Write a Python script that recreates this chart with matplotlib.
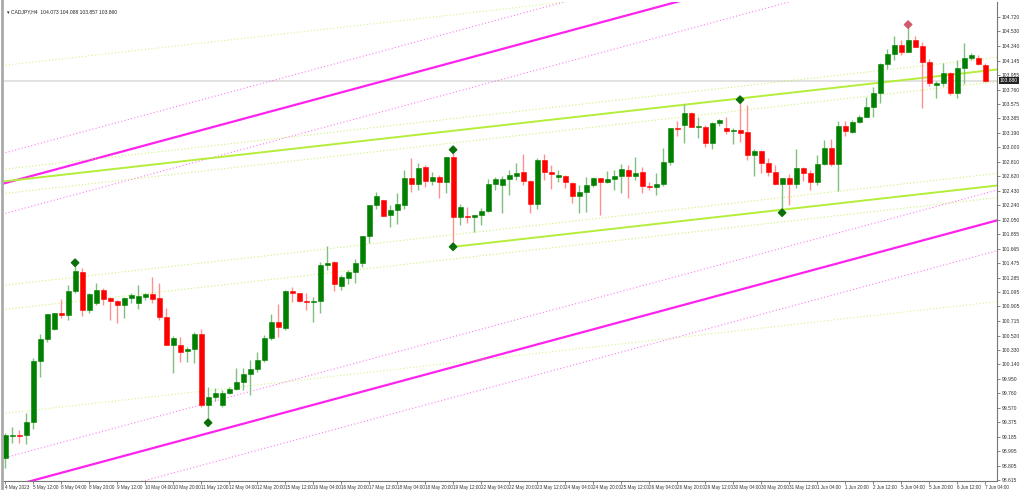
import matplotlib
matplotlib.use("Agg")
import matplotlib.pyplot as plt
import numpy as np

plt.rcParams['font.family'] = ['Liberation Sans', 'DejaVu Sans']

opens = [98.91,99.20,99.21,99.21,99.38,100.18,100.47,100.61,100.82,100.79,101.11,101.36,100.86,100.95,101.12,101.01,100.97,100.92,101.01,100.95,
 101.03,101.07,101.01,100.76,100.39,100.39,100.32,100.34,100.54,99.60,99.71,99.60,99.76,99.81,99.91,100.01,100.08,100.20,100.49,100.70,
 100.62,101.11,101.08,100.98,100.96,100.98,101.45,101.49,101.17,101.28,101.36,101.48,101.83,102.24,102.31,102.11,102.18,102.24,102.60,102.52,
 102.74,102.56,102.61,102.54,102.87,102.08,102.10,102.08,102.11,102.16,102.52,102.50,102.58,102.62,102.67,102.56,102.25,102.83,102.67,102.61,
 102.62,102.53,102.36,102.41,102.50,102.60,102.54,102.58,102.62,102.70,102.62,102.67,102.49,102.48,102.52,102.81,103.26,103.30,103.45,103.27,
 103.27,103.06,103.32,103.26,103.22,103.23,103.20,102.90,102.95,102.80,102.68,102.52,102.60,102.52,102.73,102.66,102.54,102.78,102.99,102.78,
 103.28,103.20,103.33,103.40,103.53,103.72,104.10,104.23,104.35,104.26,104.42,104.34,104.13,103.82,103.85,103.98,103.72,104.05,104.18,104.18,104.09]
highs = [99.24,99.32,99.27,99.50,100.22,100.54,100.80,100.82,101.00,101.19,101.48,101.41,101.08,101.21,101.15,101.03,100.99,101.03,101.08,101.19,
 101.08,101.29,101.21,100.88,100.51,100.50,100.37,100.57,100.60,99.84,99.83,99.80,99.84,100.09,100.09,100.20,100.30,100.53,100.80,100.94,
 101.12,101.16,101.08,101.08,101.03,101.49,101.70,101.50,101.32,101.38,101.53,101.83,102.24,102.41,102.31,102.24,102.40,102.70,102.86,102.79,
 102.77,102.67,102.64,102.87,102.97,102.25,102.21,102.11,102.20,102.58,102.61,102.62,102.70,102.79,102.91,102.57,102.86,102.91,102.77,102.70,
 102.64,102.54,102.50,102.61,102.61,102.60,102.69,102.70,102.78,102.77,102.87,102.74,102.54,102.66,102.99,103.26,103.35,103.57,103.47,103.40,
 103.30,103.33,103.38,103.40,103.26,103.63,103.56,102.98,102.97,102.86,102.77,102.60,102.65,102.98,102.74,102.70,102.90,103.10,103.11,103.35,
 103.35,103.36,103.43,103.67,103.80,104.11,104.30,104.47,104.42,104.59,104.47,104.39,104.17,103.88,104.11,104.00,104.15,104.38,104.25,104.22,104.11]
lows = [98.77,99.10,99.10,99.09,99.29,99.97,100.43,100.59,100.75,100.72,101.08,100.78,100.82,100.92,100.92,100.72,100.69,100.75,100.95,100.87,
 100.99,100.95,100.72,100.39,100.03,100.17,100.17,100.16,99.58,99.37,99.66,99.58,99.75,99.80,99.80,99.74,100.04,100.17,100.46,100.50,
 100.59,100.96,100.96,100.86,100.70,100.82,101.38,101.11,101.12,101.20,101.21,101.42,101.74,102.19,102.10,101.95,101.99,102.19,102.41,102.44,
 102.48,102.50,102.33,102.40,101.69,101.98,102.00,101.88,101.98,102.15,102.44,102.14,102.37,102.57,102.50,102.14,102.19,102.57,102.45,102.54,
 102.46,102.27,102.14,102.15,102.48,102.11,102.53,102.44,102.40,102.33,102.57,102.40,102.44,102.37,102.49,102.77,103.15,103.06,103.27,103.12,
 103.01,102.98,103.28,103.18,103.04,103.07,102.83,102.62,102.66,102.63,102.50,102.14,102.24,102.46,102.56,102.44,102.50,102.77,102.76,102.43,
 103.15,103.19,103.32,103.40,103.40,103.59,104.03,104.15,104.22,104.26,104.32,103.52,103.81,103.65,103.81,103.69,103.65,103.84,104.15,104.09,103.86]
closes = [99.21,99.21,99.20,99.38,100.18,100.47,100.80,100.82,100.79,101.11,101.37,100.86,101.07,101.12,101.00,100.97,100.92,101.01,101.05,101.04,
 101.07,101.00,100.76,100.39,100.49,100.30,100.34,100.54,99.60,99.71,99.76,99.76,99.81,99.91,100.01,100.08,100.20,100.49,100.70,100.63,
 101.11,101.08,100.98,100.96,100.98,101.45,101.48,101.20,101.29,101.36,101.48,101.83,102.24,102.36,102.10,102.18,102.25,102.60,102.52,102.73,
 102.56,102.61,102.54,102.87,102.08,102.21,102.08,102.11,102.16,102.52,102.58,102.58,102.64,102.66,102.56,102.25,102.83,102.67,102.65,102.64,
 102.54,102.36,102.41,102.50,102.60,102.54,102.58,102.62,102.72,102.62,102.66,102.49,102.48,102.52,102.81,103.26,103.24,103.45,103.27,103.27,
 103.06,103.32,103.36,103.22,103.23,103.19,102.90,102.95,102.80,102.68,102.52,102.60,102.52,102.73,102.66,102.54,102.78,102.99,102.78,103.28,
 103.22,103.33,103.40,103.53,103.72,104.10,104.23,104.35,104.26,104.42,104.32,104.13,103.85,103.85,103.98,103.72,104.05,104.18,104.22,104.10,103.88]

xlabels = ["4 May 2023","5 May 12:00","8 May 04:00","8 May 20:00","9 May 12:00","10 May 04:00","10 May 20:00","11 May 12:00",
 "12 May 04:00","12 May 20:00","15 May 12:00","16 May 04:00","16 May 20:00","17 May 12:00","18 May 04:00","18 May 20:00",
 "19 May 12:00","22 May 04:00","22 May 20:00","23 May 12:00","24 May 04:00","24 May 20:00","25 May 12:00","26 May 04:00",
 "26 May 20:00","29 May 12:00","30 May 04:00","30 May 20:00","31 May 12:00","1 Jun 04:00","1 Jun 20:00","2 Jun 12:00",
 "5 Jun 04:00","5 Jun 20:00","6 Jun 12:00","7 Jun 04:00"]
yticks = [104.720,104.530,104.340,104.145,103.955,103.760,103.575,103.385,103.190,103.000,102.810,102.620,102.430,102.240,
 102.050,101.855,101.665,101.475,101.285,101.095,100.905,100.715,100.520,100.330,100.140,99.950,99.760,99.570,99.375,
 99.185,98.995,98.805,98.615]

mag_start, mag_price, mag_slope, mag_width, mag_off = 0, 102.53, 0.0249, 4.02, 0.40
grn_start, grn_price, grn_slope, grn_width, grn_off = 64, 101.69, 0.0104, 1.53, 0.16
diamonds_idx = [10, 29, 64, 64, 105, 111, 129]
diamonds_val = [101.48, 99.37, 102.97, 101.69, 103.63, 102.14, 104.62]
diamonds_col = ['#0a6e0a', '#0a6e0a', '#0a6e0a', '#0a6e0a', '#0a6e0a', '#0a6e0a', '#d05a6a']
title = "CADJPY,H4  104.073 104.088 103.857 103.860"

fig = plt.figure(figsize=(10.24, 4.9), dpi=100)
ax = fig.add_axes([3/1024, 9/490, 994/1024, 479/490])
n = len(opens)
idx = np.arange(n)
ax.set_xlim(-0.3, 141.7)
ax.set_ylim(98.602, 104.918)

xs = np.array([-1, 143])
mu = mag_price + mag_slope * (xs - mag_start)
ml = mu - mag_width
mc = '#ff22ee'
for base in (mu, ml):
    ax.plot(xs, base, color=mc, lw=1.6, zorder=1)
    ax.plot(xs, base + mag_off, color=mc, lw=0.8, ls=(0, (1, 2)), alpha=0.6, zorder=1)
    ax.plot(xs, base - mag_off, color=mc, lw=0.8, ls=(0, (1, 2)), alpha=0.6, zorder=1)
gl = grn_price + grn_slope * (xs - grn_start)
gu = gl + grn_width
gc = '#b4ee3a'
ax.plot(xs, gu, color=gc, lw=1.4, zorder=1)
xs2 = np.array([grn_start, 143])
ax.plot(xs2, grn_price + grn_slope * (xs2 - grn_start), color=gc, lw=1.4, zorder=1)
for base, sign in ((gu, 1), (gl, -1)):
    ax.plot(xs, base + grn_off, color=gc, lw=0.8, ls=(0, (1, 2)), alpha=0.7, zorder=1)
    ax.plot(xs, base - grn_off, color=gc, lw=0.8, ls=(0, (1, 2)), alpha=0.7, zorder=1)
    ax.plot(xs, base + sign * grn_width, color=gc, lw=0.8, ls=(0, (1, 2)), alpha=0.6, zorder=1)

ax.axhline(closes[-1], color='#dddddd', lw=1.2, zorder=0.5)

o = np.array(opens); c = np.array(closes); h = np.array(highs); l = np.array(lows)
up = c >= o
cols = np.where(up, '#008000', '#ff0000')
wcols = np.where(up, '#7fbf7f', '#ff9090')
ax.vlines(idx, l, h, colors=wcols, lw=1.0, zorder=2)
ax.bar(idx, np.maximum(np.abs(c - o), 0.012), bottom=np.minimum(o, c), width=0.7,
       color=cols, edgecolor=cols, lw=0.4, zorder=3)
ax.scatter(diamonds_idx, diamonds_val, marker='D', s=14, c=diamonds_col, zorder=4)

ax.yaxis.tick_right()
ax.set_yticks(yticks)
ax.set_yticklabels([f"{v:.3f}" for v in yticks], fontsize=3.6)
ax.set_xticks(np.arange(0, n, 4))
ax.set_xticklabels(xlabels, fontsize=3.3, ha='left')
ax.tick_params(axis='both', length=2, width=0.5, pad=1.2, colors='#555555', labelcolor='#333333')
for s in ('top', 'left'):
    ax.spines[s].set_visible(False)
ax.spines['right'].set_color('#777777'); ax.spines['bottom'].set_color('#777777')
ax.text(0.004, 0.985, "\u25BE " + title, transform=ax.transAxes, fontsize=3.6, va='top', ha='left', color='#222222')
ax.text(1.003, closes[-1], f"{closes[-1]:.3f}", transform=ax.get_yaxis_transform(), fontsize=3.6,
        color='white', va='center', ha='left', bbox=dict(boxstyle='square,pad=0.15', fc='#222222', ec='none'))
fig.add_artist(plt.Line2D([1.5/1024, 1.5/1024], [0, 1], color='#aaaaaa', lw=2))
fig.savefig("out.png", dpi=100, facecolor='white')
